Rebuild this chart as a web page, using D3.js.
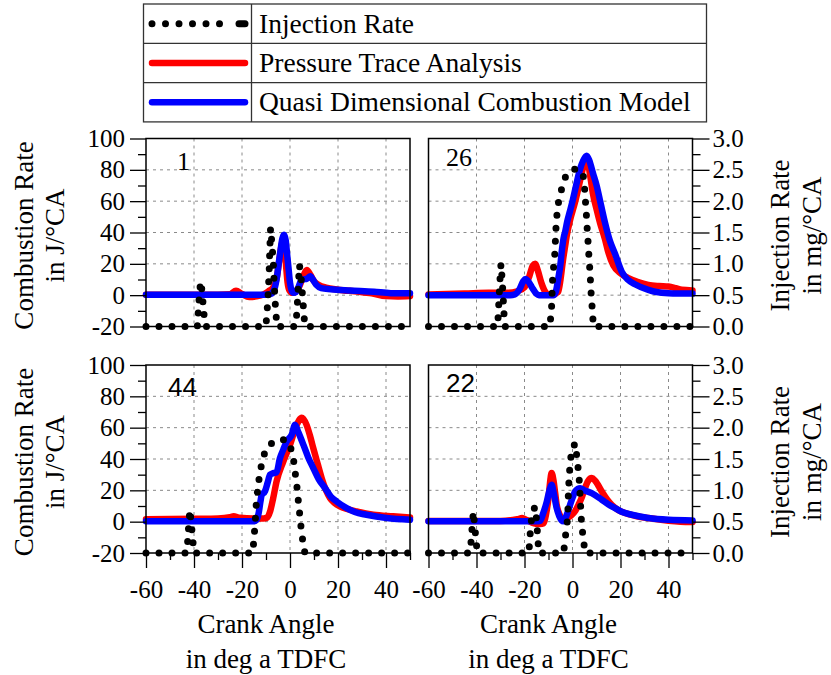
<!DOCTYPE html>
<html>
<head>
<meta charset="utf-8">
<script src="https://cdn.jsdelivr.net/npm/d3@7/dist/d3.min.js"></script>
</head>
<body style="margin:0">
<svg id="chart" width="831" height="675"></svg>
<script>
// ---------------- DATA ----------------
const angleDomain = [-60, 50];
const combDomain = [-20, 100];
const injDomain = [0, 3];
const angleTicks = [-60, -40, -20, 0, 20, 40];
const angleMinorTicks = [-50, -30, -10, 10, 30, 50];
const combTicks = [-20, 0, 20, 40, 60, 80, 100];
const combMinorTicks = [-10, 10, 30, 50, 70, 90];
const injTicks = [0.0, 0.5, 1.0, 1.5, 2.0, 2.5, 3.0];
const injMinorTicks = [0.25, 0.75, 1.25, 1.75, 2.25, 2.75];
const panelLabels = ["1", "26", "44", "22"];
const legendLabels = ["Injection Rate", "Pressure Trace Analysis", "Quasi Dimensional Combustion Model"];

// Panel 1 (top left)
const inj1 = [[-60,0],[-38.6,0],[-38.2,0.25],[-37.7,0.55],[-37.2,0.72],[-36.6,0.55],[-36.1,0.3],[-35.6,0.1],[-35.2,0],
  [-10.1,0],[-9.7,0.15],[-9.2,0.45],[-8.7,0.85],[-8.4,1.25],[-8.1,1.57],[-7.6,1.35],[-7.0,1.05],[-6.6,0.7],[-6.2,0.4],[-5.8,0.18],[-5.4,0],
  [2.2,0],[2.7,0.15],[3.2,0.45],[3.6,0.75],[3.9,0.98],[4.5,0.85],[5.1,0.55],[5.6,0.3],[6.0,0.1],[6.4,0],[50,0]];
const pta1 = [[-60,0.3],[-30,0.3],[-25,0.6],[-22.5,2.8],[-20,0.8],[-17,-1.2],[-14,-0.8],[-11,0.5],[-9,2.5],[-7,5],[-5.5,11],
  [-4.5,22],[-3.5,32],[-2.8,35],[-2.2,30],[-1.6,18],[-1,8],[-0.2,3],[1,1.5],[2.5,2.5],[4,6],[5.5,12],[7,16],[8.5,13],
  [10,9],[12,6.5],[15,4.8],[20,3.5],[28,2.3],[34,1.2],[40,-0.6],[45,-0.8],[50,-0.6]];
const qdcm1 = [[-60,0.3],[-10,0.3],[-8,0.8],[-6.5,4],[-5.5,11],[-4.8,19],[-4,28],[-3.2,36],[-2.5,38.5],[-1.8,35],[-1.2,26],
  [-0.6,17],[0,8],[0.7,3],[1.5,1.5],[2.5,2],[3.5,5],[4.5,9],[5.5,10],[7,10.5],[8.5,12],[9.5,10],[11,6.5],[13,4.5],
  [17,3.8],[25,3],[35,2.2],[42,1.3],[50,1.2]];

// Panel 26 (top right)
const inj26 = [[-60,0],[-31.2,0],[-30.8,0.3],[-30.3,0.7],[-29.8,1.0],[-29.3,0.75],[-28.8,0.4],[-28.4,0.1],[-28.1,0],
  [-9.4,0],[-8.65,0.35],[-8.4,0.69],[-8.0,0.9],[-7.3,1.19],[-7.0,1.5],[-6.6,1.74],[-5.9,1.97],[-4.5,2.2],[-2.8,2.4],
  [-0.3,2.5],[2.45,2.52],[4.5,2.4],[5.2,2.14],[5.5,1.93],[5.9,1.72],[6.2,1.5],[6.6,1.29],[6.9,1.08],[7.3,0.87],
  [7.7,0.56],[8.3,0.24],[8.7,0],[50,0]];
const pta26 = [[-60,0.5],[-45,1],[-35,1.5],[-27,1.5],[-23,2.5],[-20,5],[-18,12],[-16.5,19],[-15.5,20],[-14.5,16],[-13,8],
  [-11.5,2.5],[-10,0.5],[-8,0.5],[-6,2],[-5,10],[-4,22],[-3,32],[-2.4,38],[-1,48],[1,59],[3,72],[4.5,82],[5.6,87],
  [6.5,84],[7.5,75],[8.5,65],[10,55],[11.5,46],[13.5,36],[15,27],[17,19],[20,14],[23.3,10.8],[27,8.5],[31.6,6.5],
  [36,5.8],[40,5.5],[43,4.5],[45.5,3.4],[50,3]];
const qdcm26 = [[-60,0],[-26,0],[-24,0.5],[-22,4],[-20.5,9],[-19.5,10.3],[-18.5,9],[-16.5,4],[-15,0.8],[-14,0],[-8,0],
  [-7,2],[-6,10],[-5,20],[-4.5,27.6],[-3.5,38],[-3.1,40.2],[-2.2,47],[-1,54],[0,60],[1.5,70],[3.1,80.2],[4.5,86],
  [5.9,89],[7,86],[8.5,78],[10.1,69.7],[11.8,58],[13.5,46.5],[15.5,35],[17.7,26.5],[20.5,15],[23,10],[26,7],
  [31.6,3.4],[35,2],[40,1.3],[50,1]];

// Panel 44 (bottom left)
const inj44 = [[-60,0],[-43.1,0],[-42.6,0.2],[-42.2,0.45],[-41.7,0.69],[-41.2,0.5],[-40.6,0.25],[-40,0],
  [-15.5,0],[-15.1,0.2],[-14.6,0.43],[-13.9,0.88],[-12.5,1.3],[-11,1.55],[-9.7,1.67],[-6.9,1.78],[-2.8,1.81],
  [-0.7,1.78],[0.5,1.65],[1.4,1.51],[2.1,1.3],[2.8,1.09],[3.5,0.82],[4.2,0.56],[4.9,0.3],[5.6,0.13],[6.2,0],[50,0]];
const pta44 = [[-60,1.5],[-40,1.8],[-30,2],[-25,2.8],[-23.5,3.4],[-21,2.5],[-15,2],[-11,2],[-9.7,2.5],[-8.3,6.5],[-7,15],
  [-5.6,25.7],[-2.8,38.4],[0,49],[2.8,61.8],[4.9,66.4],[6.9,61.8],[8.3,55],[9.7,46.9],[11.5,37],[13.2,27.8],[15,20],
  [16.7,15],[18.5,12],[20.8,9.7],[24,8],[27.8,6.5],[34.7,4.4],[43,3.4],[50,2.7]];
const qdcm44 = [[-60,0.2],[-15,0.2],[-14,1],[-13,6],[-12.3,13],[-11.8,17],[-10.4,19.5],[-9.3,25],[-8.3,30],[-6.9,31],
  [-5.6,31.5],[-4.2,40.5],[-2.8,46],[-1.4,51.2],[0.7,55.4],[2.1,61.8],[3.5,57],[5.6,49],[7.6,41],[9.7,34.2],[12,27],
  [14.6,21.4],[17,16],[19.4,12.9],[23.6,8.7],[27,6.2],[31.9,4.4],[40.3,2.3],[50,1.2]];

// Panel 22 (bottom right)
const inj22 = [[-60,0],[-42.8,0],[-42.2,0.2],[-41.8,0.43],[-41.3,0.66],[-40.7,0.42],[-40.1,0.16],[-39.6,0],
  [-18.2,0],[-17.8,0.2],[-17.4,0.45],[-16.6,0.65],[-15.6,0.74],[-14.9,0.5],[-14.4,0.2],[-14.0,0],
  [-3.8,0],[-3.4,0.1],[-2.7,0.35],[-2.0,0.56],[-1.7,0.98],[-1.4,1.2],[-1.0,1.43],[-0.3,1.65],[1.1,1.75],[1.8,1.54],
  [2.5,1.3],[2.9,1.12],[3.2,0.88],[3.8,0.45],[4.5,0.24],[5.2,0],[50,0]];
const pta22 = [[-60,0.5],[-30,0.5],[-23,1.5],[-21,2.3],[-19,1],[-16,-1],[-13.5,-1.5],[-12,-1],[-11,5],[-10,15],[-9.2,27],
  [-8.7,31],[-8,27],[-7.2,18],[-6.6,10.8],[-5.5,5],[-4.5,2],[-3.8,1.2],[-2,2.5],[-0.3,4.4],[1.2,7],[2.5,10.8],[4,16],
  [5.2,21.4],[6.5,26],[8,27.8],[9.5,26],[12.2,19.3],[14.5,14],[16.3,10.8],[19,7.5],[21.9,5.5],[26,3.8],[31.6,2.3],
  [40,0.6],[45,0],[50,-0.2]];
const qdcm22 = [[-60,0.2],[-15,0.2],[-13.5,0.5],[-12.3,5],[-10.7,12.9],[-9.6,20],[-8.7,23.5],[-7.8,18],[-6.6,8.7],
  [-5.5,3.5],[-4.5,0.8],[-3.8,0.2],[-2.5,4],[-1,10.8],[0.2,16],[1.1,19.3],[2.2,21],[3.2,21.4],[5,20],[8,18.2],
  [12.2,14],[15,11],[17.7,8.7],[21,6],[24.7,4.4],[31.6,2.3],[40,1.2],[50,0.8]];

// ---------------- LAYOUT ----------------
const SERIF = '"Times New Roman", "Liberation Serif", Tinos, FreeSerif';
const SANS = '"Liberation Sans", Arial';
const colLeft = [146, 410], colRight = [428.5, 692.5];
const rowTop = [138.5, 326.5], rowBottom = [365, 553];
const panels = [
  { label: panelLabels[0], inj: inj1, pta: pta1, qdcm: qdcm1, xr: colLeft, yr: rowTop, left: true, bottom: false, font: SERIF, lx: 177, ly: 170 },
  { label: panelLabels[1], inj: inj26, pta: pta26, qdcm: qdcm26, xr: colRight, yr: rowTop, left: false, bottom: false, font: SERIF, lx: 446, ly: 166 },
  { label: panelLabels[2], inj: inj44, pta: pta44, qdcm: qdcm44, xr: colLeft, yr: rowBottom, left: true, bottom: true, font: SANS, lx: 168, ly: 396 },
  { label: panelLabels[3], inj: inj22, pta: pta22, qdcm: qdcm22, xr: colRight, yr: rowBottom, left: false, bottom: true, font: SANS, lx: 446, ly: 392 }
];

const svg = d3.select("#chart");
const fmtInt = d => String(d);
const fmtInj = d => d.toFixed(1);
const txt = (parent, family, size) => parent.append("text").style("font-family", family).attr("font-size", size).attr("fill", "#000");

panels.forEach(p => {
  const x = d3.scaleLinear().domain(angleDomain).range(p.xr);
  const yC = d3.scaleLinear().domain(combDomain).range([p.yr[1], p.yr[0]]);
  const yI = d3.scaleLinear().domain(injDomain).range([p.yr[1], p.yr[0]]);
  const g = svg.append("g");

  // grid
  const grid = g.append("g").attr("stroke", "#8a8a8a").attr("stroke-width", 1).attr("stroke-dasharray", "3,4");
  angleTicks.filter(v => v > angleDomain[0]).forEach(v => {
    grid.append("line").attr("x1", x(v)).attr("x2", x(v)).attr("y1", p.yr[0]).attr("y2", p.yr[1]);
  });
  combTicks.filter(v => v > combDomain[0] && v < combDomain[1]).forEach(v => {
    grid.append("line").attr("x1", p.xr[0]).attr("x2", p.xr[1]).attr("y1", yC(v)).attr("y2", yC(v));
  });

  // series
  const lineC = d3.line().x(d => x(d[0])).y(d => yC(d[1])).curve(d3.curveMonotoneX);
  const lineI = d3.line().x(d => x(d[0])).y(d => yI(d[1])).curve(d3.curveLinear);
  g.append("path").datum(p.pta).attr("d", lineC).attr("fill", "none").attr("stroke", "#ff0000")
    .attr("stroke-width", 6.5).attr("stroke-linejoin", "round").attr("stroke-linecap", "round");
  g.append("path").datum(p.qdcm).attr("d", lineC).attr("fill", "none").attr("stroke", "#0000ff")
    .attr("stroke-width", 6.5).attr("stroke-linejoin", "round").attr("stroke-linecap", "round");
  g.append("path").datum(p.inj).attr("d", lineI).attr("fill", "none").attr("stroke", "#000")
    .attr("stroke-width", 7).attr("stroke-dasharray", "0,13").attr("stroke-linecap", "round");

  // frame
  g.append("rect").attr("x", p.xr[0]).attr("y", p.yr[0]).attr("width", p.xr[1] - p.xr[0]).attr("height", p.yr[1] - p.yr[0])
    .attr("fill", "none").attr("stroke", "#000").attr("stroke-width", 1.5);

  // axes
  const styleAxis = sel => {
    sel.attr("font-family", null).attr("font-size", null);
    sel.select(".domain").remove();
    sel.selectAll(".tick line").attr("stroke", "#000").attr("stroke-width", 1.3);
    sel.selectAll("text").style("font-family", SERIF).attr("font-size", 25).attr("fill", "#000");
  };
  if (p.left) {
    g.append("g").attr("transform", `translate(${p.xr[0]},0)`)
      .call(d3.axisLeft(yC).tickValues(combTicks).tickSize(16).tickPadding(5).tickFormat(fmtInt))
      .call(styleAxis);
    g.append("g").attr("transform", `translate(${p.xr[0]},0)`)
      .call(d3.axisLeft(yC).tickValues(combMinorTicks).tickSize(8).tickFormat(""))
      .call(styleAxis);
  } else {
    g.append("g").attr("transform", `translate(${p.xr[1]},0)`)
      .call(d3.axisRight(yI).tickValues(injTicks).tickSize(17).tickPadding(3).tickFormat(fmtInj))
      .call(styleAxis);
    g.append("g").attr("transform", `translate(${p.xr[1]},0)`)
      .call(d3.axisRight(yI).tickValues(injMinorTicks).tickSize(8).tickFormat(""))
      .call(styleAxis);
  }
  if (p.bottom) {
    g.append("g").attr("transform", `translate(0,${p.yr[1]})`)
      .call(d3.axisBottom(x).tickValues(angleTicks).tickSize(15).tickPadding(12).tickFormat(fmtInt))
      .call(styleAxis);
    g.append("g").attr("transform", `translate(0,${p.yr[1]})`)
      .call(d3.axisBottom(x).tickValues(angleMinorTicks).tickSize(7).tickFormat(""))
      .call(styleAxis);
    const cx = (p.xr[0] + p.xr[1]) / 2 - 12;
    [["Crank Angle", 633], ["in deg a TDFC", 668]].forEach(([t, by]) => {
      txt(g, SERIF, 27).attr("x", cx).attr("y", by).attr("text-anchor", "middle").text(t);
    });
  }

  // y titles
  const cy = (p.yr[0] + p.yr[1]) / 2 + 3;
  const titles = p.left ? [["Combustion Rate", 33], ["in J/°CA", 64]] : [["Injection Rate", 789], ["in mg/°CA", 821]];
  titles.forEach(([t, bx]) => {
    txt(g, SERIF, 27).attr("transform", `translate(${bx},${cy}) rotate(-90)`).attr("text-anchor", "middle").text(t);
  });

  // panel label
  txt(g, p.font, 26).attr("x", p.lx).attr("y", p.ly).text(p.label);
});

// ---------------- LEGEND ----------------
const lg = svg.append("g");
const lx0 = 143.5, lx1 = 706.5, ly0 = 4, rowH = 39.3, divX = 251.5;
lg.append("rect").attr("x", lx0).attr("y", ly0).attr("width", lx1 - lx0).attr("height", rowH * 3)
  .attr("fill", "#fff").attr("stroke", "#333").attr("stroke-width", 1.3);
[1, 2].forEach(i => lg.append("line").attr("x1", lx0).attr("x2", lx1)
  .attr("y1", ly0 + rowH * i).attr("y2", ly0 + rowH * i).attr("stroke", "#333").attr("stroke-width", 1.3));
lg.append("line").attr("x1", divX).attr("x2", divX).attr("y1", ly0).attr("y2", ly0 + rowH * 3)
  .attr("stroke", "#333").attr("stroke-width", 1.3);
const legendStyles = [
  { stroke: "#000", dash: "0,13.5", width: 7 },
  { stroke: "#ff0000", dash: null, width: 6.5 },
  { stroke: "#0000ff", dash: null, width: 6.5 }
];
legendLabels.forEach((t, i) => {
  const yc = ly0 + rowH * i + rowH / 2;
  const s = legendStyles[i];
  if (i === 0) {
    lg.append("line").attr("x1", 152).attr("x2", 233).attr("y1", yc).attr("y2", yc)
      .attr("stroke", s.stroke).attr("stroke-width", s.width).attr("stroke-dasharray", s.dash).attr("stroke-linecap", "round");
    lg.append("line").attr("x1", 239).attr("x2", 245).attr("y1", yc).attr("y2", yc)
      .attr("stroke", s.stroke).attr("stroke-width", s.width).attr("stroke-linecap", "round");
  } else {
    lg.append("line").attr("x1", 152).attr("x2", 245).attr("y1", yc).attr("y2", yc)
      .attr("stroke", s.stroke).attr("stroke-width", s.width).attr("stroke-linecap", "round");
  }
  txt(lg, SERIF, 27.5).attr("x", 259).attr("y", yc + 9).text(t);
});
</script>
</body>
</html>
